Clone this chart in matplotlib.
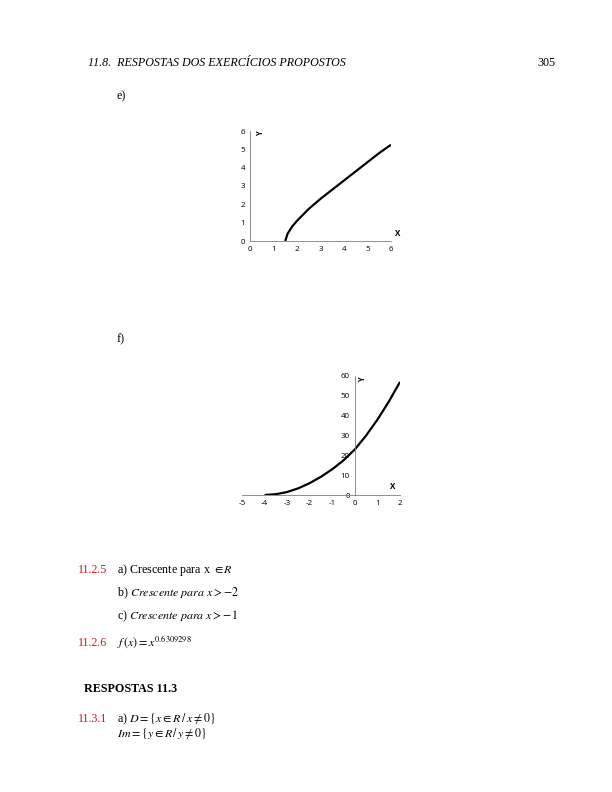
import matplotlib

matplotlib.use("Agg")
import matplotlib.pyplot as plt

plt.rcParams["mathtext.fontset"] = "stix"
plt.rcParams["axes.unicode_minus"] = False
SERIF = "Liberation Serif"
SANS = "Open Sans"
RED = "#d4161b"

# chart e)
E_X = [1.5, 1.6, 1.8, 2.0, 2.5, 3.0, 3.5, 4.0, 4.5, 5.0, 5.5, 6.0]
E_Y = [0.0, 0.4, 0.8, 1.1, 1.75, 2.3, 2.8, 3.3, 3.8, 4.3, 4.8, 5.25]
E_TICKS = [0, 1, 2, 3, 4, 5, 6]

# chart f)
F_X = [-4.0, -3.5, -3.0, -2.5, -2.0, -1.5, -1.0, -0.5, 0.0, 0.5, 1.0, 1.5, 2.0]
F_Y = [0.0, 0.4, 1.5, 3.4, 6.0, 9.2, 13.0, 17.5, 23.0, 30.0, 38.0, 47.0, 57.0]
F_XTICKS = [-5, -4, -3, -2, -1, 0, 1, 2]
F_YTICKS = [0, 10, 20, 30, 40, 50, 60]

W, H = 612, 792
fig = plt.figure(figsize=(W / 72, H / 72), dpi=72)


def px_axes(left, top, right, bottom):
    return fig.add_axes([left / W, 1 - bottom / H, (right - left) / W, (bottom - top) / H])


def style(ax):
    for s in ["top", "right"]:
        ax.spines[s].set_visible(False)
    for s in ["left", "bottom"]:
        ax.spines[s].set_color("#777777")
        ax.spines[s].set_linewidth(0.8)
    ax.tick_params(length=0, labelsize=8, pad=5)
    for lab in ax.get_xticklabels() + ax.get_yticklabels():
        lab.set_fontfamily(SANS)
    ax.patch.set_alpha(0)


ax = px_axes(250, 131, 391, 241)
ax.plot(E_X, E_Y, color="black", lw=2.2, solid_capstyle="butt")
ax.set_xlim(0, 6)
ax.set_ylim(0, 6)
ax.set_xticks(E_TICKS)
ax.set_yticks(E_TICKS)
ax.tick_params(axis="y", pad=9)
style(ax)
ax.text(0.25, 5.85, "Y", fontsize=7.5, fontfamily=SANS, fontweight="bold", rotation=90, va="center")
ax.text(6.15, 0.25, "X", fontsize=8, fontfamily=SANS, fontweight="bold")

ax = px_axes(242, 376, 400, 495)
ax.plot(F_X, F_Y, color="black", lw=2.2, solid_capstyle="butt")
ax.set_xlim(-5, 2)
ax.set_ylim(0, 60)
ax.set_xticks(F_XTICKS)
ax.set_yticks(F_YTICKS)
ax.spines["left"].set_position(("data", 0))
ax.tick_params(axis="x", pad=9)
ax.tick_params(axis="y", pad=2)
style(ax)
ax.text(0.12, 58, "Y", fontsize=7.5, fontfamily=SANS, fontweight="bold", rotation=90, va="center")
ax.text(1.55, 3, "X", fontsize=8, fontfamily=SANS, fontweight="bold")


def t(x, y, s, **kw):
    kw.setdefault("fontsize", 12)
    kw.setdefault("fontfamily", SERIF)
    fig.text(x / W, 1 - y / H, s, va="baseline", **kw)


t(88, 66, "11.8.  RESPOSTAS DOS EXERCÍCIOS PROPOSTOS", style="italic")
t(537, 66, "305")
t(117, 99, "e)")
t(117, 342, "f)")
t(78, 573, "11.2.5", color=RED)
t(117, 573, r"a) Crescente para x $\in R$")
t(117, 596, r"b) $Crescente\ para\ x > -2$")
t(117, 619, r"c) $Crescente\ para\ x > -1$")
t(78, 646, "11.2.6", color=RED)
t(117, 646, r"$f\,(x) = x^{0.6309298}$")
t(84, 692, "RESPOSTAS 11.3", fontweight="bold")
t(78, 722, "11.3.1", color=RED)
t(117, 722, r"a) $D = \{x \in R\,/\,x \neq 0\}$")
t(117, 737, r"$Im = \{y \in R\,/\,y \neq 0\}$")

fig.savefig("out.png", dpi=72)
